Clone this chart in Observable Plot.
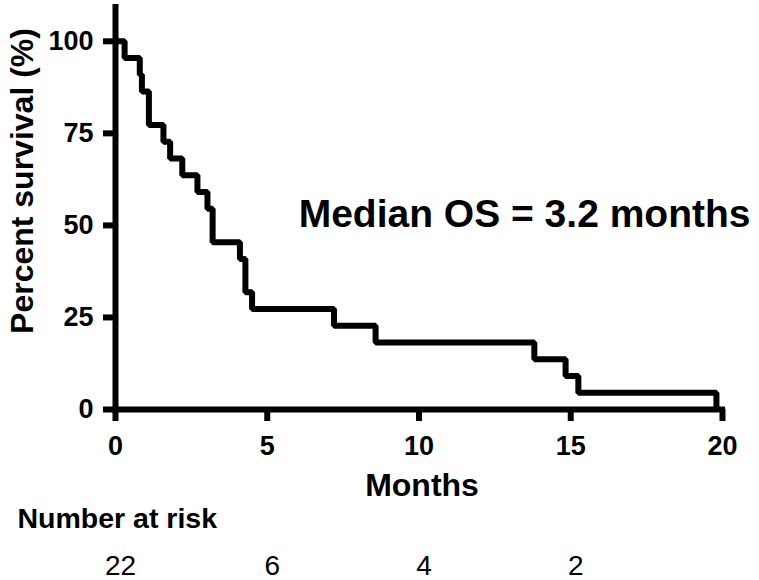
<!DOCTYPE html>
<html>
<head>
<meta charset="utf-8">
<script src="https://cdn.jsdelivr.net/npm/d3@7"></script>
<script src="https://cdn.jsdelivr.net/npm/@observablehq/plot@0.6"></script>
<style>
  html, body { margin: 0; padding: 0; background: #fff; }
</style>
</head>
<body>
<div id="chart"></div>
<script>
// Kaplan–Meier survival data
const eventMonths = [0, 0.3, 0.8, 0.87, 1.1, 1.58, 1.8, 2.2, 2.7, 3.03, 3.2, 4.1, 4.28, 4.5, 7.2, 8.57, 13.8, 14.83, 15.25, 19.8];
const survivalPct = [100, 95.45, 90.91, 86.36, 77.27, 72.73, 68.18, 63.64, 59.09, 54.55, 45.45, 40.91, 31.82, 27.27, 22.73, 18.18, 13.64, 9.09, 4.55, 0];

// Number at risk table
const riskMonths = [0, 5, 10, 15];
const riskCounts = [22, 6, 4, 2];

// Tick values and labels
const xTicks = [0, 5, 10, 15, 20];
const yTicks = [0, 25, 50, 75, 100];
const xTickLabels = ["0", "5", "10", "15", "20"];
const yTickLabels = ["0", "25", "50", "75", "100"];
const xLabel = "Months";
const yLabel = "Percent survival (%)";
const riskTitle = "Number at risk";
const medianText = "Median OS = 3.2 months";

const km = eventMonths.map((t, i) => ({t, s: survivalPct[i]}));
const risk = riskMonths.map((t, i) => ({t, n: riskCounts[i]}));
const xTickData = xTicks.map((v, i) => ({v, label: xTickLabels[i]}));
const yTickData = yTicks.map((v, i) => ({v, label: yTickLabels[i]}));

const chart = Plot.plot({
  width: 759,
  height: 580,
  marginLeft: 115,
  marginRight: 37,
  marginTop: 4,
  marginBottom: 171,
  style: {fontFamily: "'Liberation Sans', Arial, sans-serif", fontWeight: "bold", color: "#000", background: "#fff"},
  x: {domain: [0, 20]},
  y: {domain: [0, 110]},
  marks: [
    Plot.axisX({ticks: xTicks, tickSize: 12, strokeWidth: 6, label: null, tickFormat: () => ""}),
    Plot.axisY({ticks: yTicks, tickSize: 12, strokeWidth: 6, label: null, tickFormat: () => ""}),
    Plot.text(xTickData, {x: "v", text: "label", frameAnchor: "bottom", lineAnchor: "top", dy: 26, fontSize: "27px", fontWeight: "bold"}),
    Plot.text(yTickData, {y: "v", text: "label", frameAnchor: "left", textAnchor: "end", lineAnchor: "middle", dx: -22, fontSize: "27px", fontWeight: "bold"}),
    Plot.ruleY([0], {strokeWidth: 6, strokeLinecap: "square"}),
    Plot.ruleX([0], {y1: 0, y2: 110, strokeWidth: 6}),
    Plot.line(km, {x: "t", y: "s", curve: "step-after", strokeWidth: 6, strokeLinejoin: "miter", strokeLinecap: "butt"}),
    Plot.text([medianText], {frameAnchor: "right", textAnchor: "end", lineAnchor: "bottom", dx: 28, dy: 20, fontSize: 39, fontWeight: "bold"}),
    Plot.text([xLabel], {frameAnchor: "bottom", lineAnchor: "bottom", dx: 3, dy: 86, fontSize: 32, fontWeight: "bold"}),
    Plot.text([yLabel], {frameAnchor: "left", textAnchor: "middle", rotate: -90, lineAnchor: "bottom", dx: -83, dy: -26, fontSize: 32, fontWeight: "bold"}),
    Plot.text([riskTitle], {frameAnchor: "bottom-left", textAnchor: "start", lineAnchor: "bottom", dx: -98, dy: 118, fontSize: 28.5, fontWeight: "bold"}),
    Plot.text(risk, {x: "t", text: d => String(d.n), frameAnchor: "bottom", lineAnchor: "bottom", dx: 5, dy: 165, fontSize: 28, fontWeight: "normal"})
  ]
});
document.getElementById("chart").appendChild(chart);
</script>
</body>
</html>
